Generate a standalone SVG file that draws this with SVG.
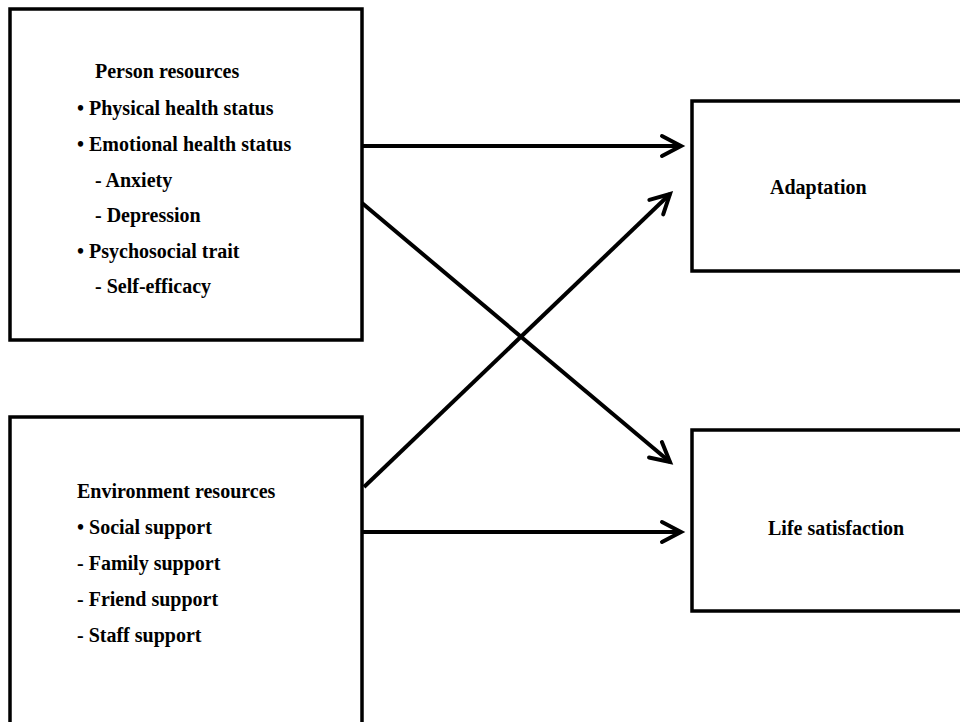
<svg xmlns="http://www.w3.org/2000/svg" width="960" height="722" viewBox="0 0 960 722">
<style>
.box{fill:#fff;stroke:#000;stroke-width:3.5}
.t{font-family:"Liberation Serif","DejaVu Serif",serif;font-weight:bold;font-size:20px;fill:#000}
.c{fill:none;stroke:#000;stroke-width:4}
</style>
<defs>
<marker id="ah" markerUnits="userSpaceOnUse" markerWidth="30" markerHeight="30" viewBox="-24 -15 30 30" refX="0" refY="0" orient="auto">
<path d="M-19,-10 L0,0 L-19,10" fill="none" stroke="#000" stroke-width="4" stroke-linecap="round" stroke-linejoin="miter"/>
</marker>
</defs>
<rect width="960" height="722" fill="#fff"/>
<g id="person">
<rect class="box" x="10" y="9" width="352" height="331"/>
<text class="t" x="95" y="78">Person resources</text>
<text class="t" x="77" y="115">• Physical health status</text>
<text class="t" x="77" y="151">• Emotional health status</text>
<text class="t" x="95" y="187">- Anxiety</text>
<text class="t" x="95" y="222">- Depression</text>
<text class="t" x="77" y="258">• Psychosocial trait</text>
<text class="t" x="95" y="293">- Self-efficacy</text>
</g>
<g id="environment">
<rect class="box" x="10" y="417" width="352" height="320"/>
<text class="t" x="77" y="498">Environment resources</text>
<text class="t" x="77" y="534">• Social support</text>
<text class="t" x="77" y="570">- Family support</text>
<text class="t" x="77" y="606">- Friend support</text>
<text class="t" x="77" y="642">- Staff support</text>
</g>
<g id="adaptation">
<rect class="box" x="692" y="101" width="290" height="170"/>
<text class="t" x="770" y="194">Adaptation</text>
</g>
<g id="life">
<rect class="box" x="692" y="430" width="290" height="181"/>
<text class="t" x="768" y="535">Life satisfaction</text>
</g>
<g id="connectors">
<line class="c" x1="362" y1="146" x2="681" y2="146" marker-end="url(#ah)"/>
<line class="c" x1="362" y1="203" x2="670" y2="462" marker-end="url(#ah)"/>
<line class="c" x1="364" y1="487" x2="670" y2="194" marker-end="url(#ah)"/>
<line class="c" x1="362" y1="532" x2="681" y2="532" marker-end="url(#ah)"/>
</g>
</svg>
